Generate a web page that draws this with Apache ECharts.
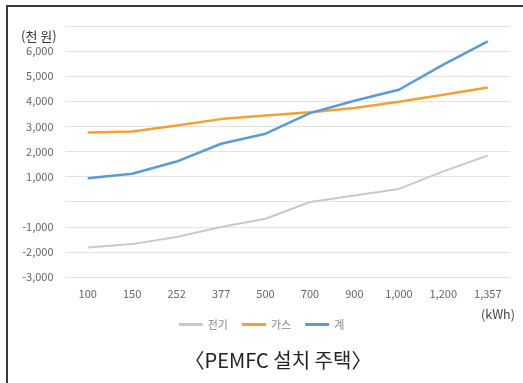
<!DOCTYPE html>
<html><head><meta charset="utf-8">
<script src="https://cdn.jsdelivr.net/npm/echarts@6/dist/echarts.min.js"></script>
<style>
html,body{margin:0;padding:0;background:#fff;}
#frame{position:absolute;left:6px;top:5px;width:517px;height:378px;border-left:2px solid #3a3a3a;border-top:2px solid #3a3a3a;}
#c{position:absolute;left:0;top:0;width:523px;height:383px;}
</style></head>
<body>
<div id="frame"></div>
<div id="c"></div>
<script>
const categories = ['100','150','252','377','500','700','900','1,000','1,200','1,357'];
const elec = [-1820,-1690,-1410,-1010,-680,-10,250,510,1210,1840];
const gas = [2760,2800,3040,3290,3430,3560,3730,3980,4260,4550];
const total = [930,1115,1600,2310,2710,3530,4020,4460,5460,6390];
const seriesNames = ['전기','가스','계'];
const yHidden = [7000, 0];

const font = '"Noto Sans CJK KR", "Noto Sans", sans-serif';
const chart = echarts.init(document.getElementById('c'));
chart.setOption({
  animation:false,
  textStyle:{fontFamily:font},
  title:[
    {text:'〈PEMFC 설치 주택〉', left:273, top:345, textAlign:'center',
     textStyle:{fontSize:20, fontWeight:'normal', color:'#222', fontFamily:font}},
    {text:'(천 원)', left:16, top:25,
     textStyle:{fontSize:13, fontWeight:'normal', color:'#333', fontFamily:font}},
    {text:'(kWh)', left:476, top:303,
     textStyle:{fontSize:12.5, fontWeight:'normal', color:'#444', fontFamily:font}}
  ],
  legend:{
    data:seriesNames, left:'center', top:314, itemWidth:24, itemHeight:3, itemGap:14,
    icon:'rect',
    textStyle:{fontSize:11, color:'#888', fontFamily:font}
  },
  grid:{left:65.5, right:13, top:26, bottom:106},
  xAxis:{
    type:'category', data:categories, boundaryGap:true,
    axisLine:{show:false}, axisTick:{show:false},
    axisLabel:{interval:0, fontSize:11, color:'#666', margin:11, fontFamily:font}
  },
  yAxis:{
    type:'value', min:-3000, max:7000, interval:1000,
    axisLine:{show:false}, axisTick:{show:false},
    splitLine:{lineStyle:{color:'#e3e3e3', width:1}},
    axisLabel:{fontSize:11, color:'#666', margin:12, fontFamily:font,
      formatter:function(v){ if(yHidden.indexOf(v)>=0) return ''; return v.toLocaleString('en-US'); }}
  },
  series:[
    {name:seriesNames[0], type:'line', data:elec, showSymbol:false, symbol:'none',
     lineStyle:{color:'#c9c9c9', width:2}, itemStyle:{color:'#c9c9c9'}},
    {name:seriesNames[1], type:'line', data:gas, showSymbol:false, symbol:'none',
     lineStyle:{color:'#f3a133', width:2.5}, itemStyle:{color:'#f3a133'}},
    {name:seriesNames[2], type:'line', data:total, showSymbol:false, symbol:'none',
     lineStyle:{color:'#5b9bd5', width:2.5}, itemStyle:{color:'#5b9bd5'}}
  ]
});
</script>
</body></html>
